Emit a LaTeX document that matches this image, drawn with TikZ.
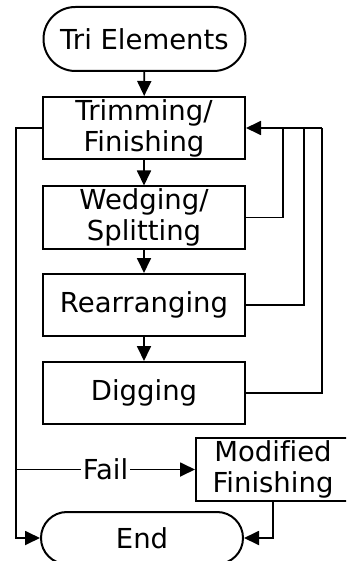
\documentclass[tikz,border=0pt]{standalone}
\usepackage{fontspec}
\setmainfont[Ligatures=NoCommon]{DejaVu Sans}
\usetikzlibrary{arrows.meta}
\begin{document}
\begin{tikzpicture}[x=1pt,y=-1pt,
  txt/.style={font=\fontsize{27.5}{31}\selectfont},
  box/.style={draw, line width=2pt, minimum width=202pt, minimum height=62pt,
    inner sep=0pt, align=center, txt},
  term/.style={box, minimum height=64pt, rounded corners=31.9pt},
  link/.style={line width=1.8pt},
  arr/.style={link, -{Triangle[length=15pt,width=14pt]}}]
\useasboundingbox (0,0) rectangle (346,561);
\clip (0,0) rectangle (346,561);

% process steps
\node[term] (tri)  at (144.5,39)  {Tri Elements};
\node[box]  (trim) at (144,128)   {Trimming/\\Finishing};
\node[box]  (wedg) at (144,217.5) {Wedging/\\Splitting};
\node[box]  (rear) at (144,305)   {Rearranging};
\node[box]  (dig)  at (144,393)   {Digging};
\node[box, minimum width=154pt, minimum height=63pt] (mod) at (273,469.5) {Modified\\Finishing};
\node[term, minimum height=52pt, rounded corners=25.9pt] (endn) at (142,538) {End};

% main sequence
\draw[arr] (tri) -- (trim);
\draw[arr] (trim) -- (wedg);
\draw[arr] (wedg) -- (rear);
\draw[arr] (rear) -- (dig);

% feedback loops back to trimming
\coordinate (j1) at (283,128);
\coordinate (j2) at (304,128);
\coordinate (j3) at (322,128);
\draw[link] (wedg.east) -| (j1);
\draw[link] (rear.east) -| (j2);
\draw[link] (dig.east) -| (j3);
\draw[arr] (j3) -- (trim.east);

% exit path on the left
\coordinate (l1) at (16,128);
\coordinate (lf) at (16,469.5);
\draw[arr] (trim.west) -- (l1) |- (endn.west);
\draw[arr] (lf) -- node[fill=white, inner sep=2pt, txt] {Fail} (mod.west);
\draw[arr] (mod.south) |- (endn.east);
\end{tikzpicture}
\end{document}
